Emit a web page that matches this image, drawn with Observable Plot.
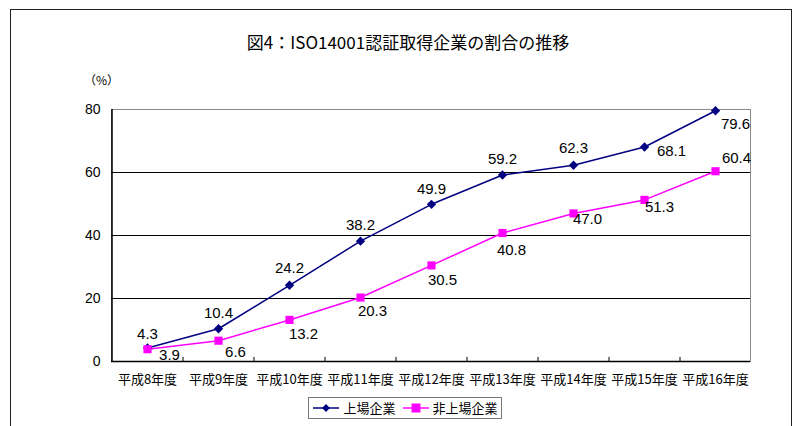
<!DOCTYPE html>
<html>
<head>
<meta charset="utf-8">
<script src="https://cdn.jsdelivr.net/npm/d3@7"></script>
<script src="https://cdn.jsdelivr.net/npm/@observablehq/plot@0.6"></script>
<style>
  html, body { margin: 0; padding: 0; background: #fff; }
  #wrap { position: relative; width: 798px; height: 426px; overflow: hidden;
          font-family: "Liberation Sans", "Noto Sans CJK JP", sans-serif; }
  #outer { position: absolute; left: 10px; top: 9px; width: 782px; height: 430px;
           border: 1.5px solid #222; box-sizing: border-box; }
  #title { position: absolute; left: 0; width: 816px; top: 30px; text-align: center;
           font-family: "Noto Sans CJK JP", sans-serif; font-size: 17px; color: #000; line-height: 24px; }
  #unit { position: absolute; left: 84px; top: 71px; font-size: 12px;
          font-family: "Noto Sans CJK JP", sans-serif; }
  #chart { position: absolute; left: 0; top: 0; }
  #legend { position: absolute; left: 308px; top: 397px; width: 194px; height: 22px;
            border: 1px solid #777; box-sizing: border-box; display: flex; align-items: center;
            justify-content: center; white-space: nowrap;
            font-family: "Noto Sans CJK JP", sans-serif; font-size: 13px; line-height: 16px; }
  #legend .item { display: flex; align-items: center; flex: none; }
  #legend svg { display: block; }
</style>
</head>
<body>
<div id="wrap">
  <div id="outer"></div>
  <div id="chart"></div>
  <div id="title">図4：ISO14001認証取得企業の割合の推移</div>
  <div id="unit">（%）</div>
  <div id="legend"></div>
</div>
<script>
// Fiscal years (Heisei era)
const years = ["平成8年度", "平成9年度", "平成10年度", "平成11年度", "平成12年度",
               "平成13年度", "平成14年度", "平成15年度", "平成16年度"];
// Share of companies with ISO14001 certification (%)
const listed = [4.3, 10.4, 24.2, 38.2, 49.9, 59.2, 62.3, 68.1, 79.6];
const unlisted = [3.9, 6.6, 13.2, 20.3, 30.5, 40.8, 47.0, 51.3, 60.4];
const seriesNames = ["上場企業", "非上場企業"];
const yTicks = [0, 20, 40, 60, 80];

const colors = {"上場企業": "#000080", "非上場企業": "#ff00ff"};

const rows = [];
years.forEach((yr, i) => {
  rows.push({year: yr, value: listed[i], series: seriesNames[0], i});
  rows.push({year: yr, value: unlisted[i], series: seriesNames[1], i});
});
const listedRows = rows.filter(d => d.series === seriesNames[0]);
const unlistedRows = rows.filter(d => d.series === seriesNames[1]);

// label placement around each marker: [dx, dy]
const listedLabelPos = [[0,-14],[0,-16],[0,-17],[0,-16],[0,-15],[0,-16],[0,-17],[27,4],[20,13]];
const unlistedLabelPos = [[22,6],[17,11],[14,14],[12,14],[11,15],[9,17],[14,6],[15,7],[21,-13]];

const W = 798, H = 426;
const mL = 111, mR = 48, mT = 109, mB = 65;
const step = (W - mL - mR) / years.length;

const labelMarks = [];
listedRows.forEach((d, k) => labelMarks.push(Plot.text([d], {
  x: "year", y: "value", text: d => d.value.toFixed(1),
  dx: listedLabelPos[k][0], dy: listedLabelPos[k][1], fill: "#000", fontSize: 15
})));
unlistedRows.forEach((d, k) => labelMarks.push(Plot.text([d], {
  x: "year", y: "value", text: d => d.value.toFixed(1),
  dx: unlistedLabelPos[k][0], dy: unlistedLabelPos[k][1], fill: "#000", fontSize: 15
})));

const chart = Plot.plot({
  width: W, height: H,
  marginLeft: mL, marginRight: mR, marginTop: mT, marginBottom: mB,
  style: {fontFamily: "Liberation Sans, Noto Sans CJK JP, sans-serif", background: "transparent", overflow: "visible"},
  x: {type: "point", domain: years, padding: 0.5, label: null},
  y: {domain: [0, 80], label: null},
  marks: [
    Plot.frame({stroke: "#888", strokeWidth: 1}),
    Plot.ruleY([20, 40, 60], {stroke: "#000", strokeWidth: 1}),
    // category boundary ticks on the bottom axis
    Plot.ruleX(years.slice(1), {y1: 0, y2: 1.3, dx: -step / 2, stroke: "#000"}),
    // left value axis line
    Plot.ruleX([years[0]], {y1: 0, y2: 80, dx: -step / 2, stroke: "#000", strokeWidth: 1.5}),
    Plot.ruleY([0], {stroke: "#000", strokeWidth: 1.5}),
    Plot.axisY(yTicks, {tickSize: 0, tickPadding: 11, fontSize: 14, fill: "#000"}),
    Plot.axisX(years, {tickSize: 0, tickPadding: 13, fontSize: 13, fill: "#000",
      fontFamily: "Noto Sans CJK JP, sans-serif"}),
    Plot.line(rows, {x: "year", y: "value", z: "series", stroke: d => colors[d.series], strokeWidth: 1.5}),
    Plot.dot(listedRows, {x: "year", y: "value", symbol: "diamond2", r: 4.2, fill: colors["上場企業"], stroke: "none"}),
    Plot.dot(unlistedRows, {x: "year", y: "value", symbol: "square", r: 4.6, fill: colors["非上場企業"], stroke: "none"}),
    ...labelMarks
  ]
});
document.getElementById("chart").appendChild(chart);

// legend
const legend = document.getElementById("legend");
const symbols = {"上場企業": "diamond", "非上場企業": "square"};
seriesNames.forEach((name, k) => {
  const item = document.createElement("div");
  item.className = "item";
  item.style.marginLeft = k === 0 ? "0px" : "6px";
  const sw = d3.create("svg").attr("width", 28).attr("height", 12);
  sw.append("line").attr("x1", 1).attr("x2", 27).attr("y1", 6).attr("y2", 6)
    .attr("stroke", colors[name]).attr("stroke-width", 1.5);
  if (symbols[name] === "diamond") {
    sw.append("path").attr("d", "M14,2L18,6L14,10L10,6Z").attr("fill", colors[name]);
  } else {
    sw.append("rect").attr("x", 9.5).attr("y", 1.5).attr("width", 9).attr("height", 9).attr("fill", colors[name]);
  }
  item.appendChild(sw.node());
  const t = document.createElement("span");
  t.textContent = name;
  t.style.marginLeft = "3px";
  item.appendChild(t);
  legend.appendChild(item);
});
</script>
</body>
</html>
